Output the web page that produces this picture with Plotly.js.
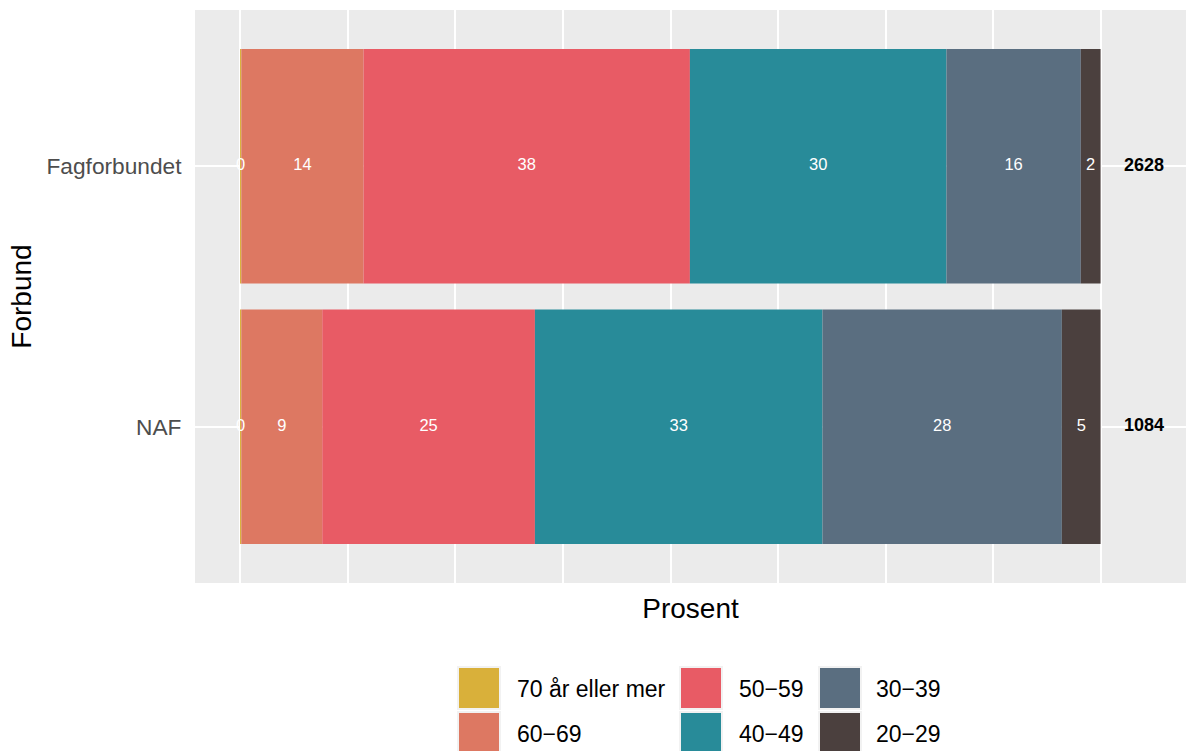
<!DOCTYPE html>
<html><head><meta charset="utf-8">
<script src="https://cdn.plot.ly/plotly-3.0.1.min.js"></script>
<style>html,body{margin:0;padding:0;background:#fff}#chart{width:1186px;height:751px}</style>
</head><body><div id="chart"></div>
<script>
// ---- data ----
const forbund = ['NAF', 'Fagforbundet'];
const totals = [1084, 2628];
const ageGroups = ['70 år eller mer', '60−69', '50−59', '40−49', '30−39', '20−29'];
const colors = ['#D9B03A', '#DD7862', '#E85B65', '#288B99', '#5A6E80', '#4B403E'];
const pct70 = [0.15, 0.15];
const pct60 = [9.4, 14.2];
const pct50 = [24.7, 37.9];
const pct40 = [33.4, 29.8];
const pct30 = [27.8, 15.6];
const pct20 = [4.5, 2.3];
const series = [pct70, pct60, pct50, pct40, pct30, pct20];

// ---- traces ----
const traces = [];
const cum = forbund.map(() => 0);
series.forEach((vals, i) => {
  traces.push({
    type: 'bar', orientation: 'h', y: forbund, x: vals, base: cum.slice(),
    width: 0.9, marker: {color: colors[i], line: {width: 0}},
    name: ageGroups[i], showlegend: false, hoverinfo: 'skip'
  });
  const mids = vals.map((v, j) => cum[j] + v / 2);
  traces.push({
    type: 'scatter', mode: 'text', y: forbund, x: mids,
    text: vals.map(v => String(Math.round(v))),
    textfont: {family: 'Liberation Sans, Arial, sans-serif', size: 16.5, color: '#FFFFFF'},
    textposition: 'middle center', showlegend: false, hoverinfo: 'skip', cliponaxis: false
  });
  vals.forEach((v, j) => cum[j] += v);
});
traces.push({
  type: 'scatter', mode: 'text', y: forbund, x: forbund.map(() => 105),
  text: totals.map(t => '<b>' + t + '</b>'),
  textfont: {family: 'Liberation Sans, Arial, sans-serif', size: 18, color: '#000000'},
  textposition: 'middle center', showlegend: false, hoverinfo: 'skip', cliponaxis: false
});

// ---- manual legend (ggplot-style, column-major 3x2) ----
const W = 1186, H = 751, mL = 195, mR = 0, mT = 10, mB = 168;
const pw = W - mL - mR, ph = H - mT - mB;
const px2x = p => (p - mL) / pw;
const py2y = p => (H - mB - p) / ph;
const keyCols = [457, 679, 818];
const textCols = [515, 737, 874];
const keyRows = [666, 711];
const keySize = 44;
const shapes = [], annotations = [];
ageGroups.forEach((g, i) => {
  const c = Math.floor(i / 2), r = i % 2;
  const x0 = keyCols[c], y0 = keyRows[r];
  shapes.push({type: 'rect', xref: 'paper', yref: 'paper',
    x0: px2x(x0), x1: px2x(x0 + keySize), y0: py2y(y0), y1: py2y(y0 + keySize),
    fillcolor: '#F2F2F2', line: {width: 0}, layer: 'above'});
  shapes.push({type: 'rect', xref: 'paper', yref: 'paper',
    x0: px2x(x0 + 2), x1: px2x(x0 + keySize - 2), y0: py2y(y0 + 2), y1: py2y(y0 + keySize - 2),
    fillcolor: colors[i], line: {width: 0}, layer: 'above'});
  annotations.push({xref: 'paper', yref: 'paper', x: px2x(textCols[c]), y: py2y(y0 + keySize / 2 + 1),
    xanchor: 'left', yanchor: 'middle', showarrow: false, text: g,
    font: {family: 'Liberation Sans, Arial, sans-serif', size: 23, color: '#000000'}});
});

const layout = {
  width: W, height: H,
  margin: {l: mL, r: mR, t: mT, b: mB, pad: 0},
  paper_bgcolor: '#FFFFFF', plot_bgcolor: '#EBEBEB',
  barmode: 'overlay', showlegend: false,
  font: {family: 'Liberation Sans, Arial, sans-serif'},
  xaxis: {
    range: [-5.23, 109.87], tick0: 0, dtick: 12.5, showticklabels: false,
    showgrid: true, gridcolor: '#FFFFFF', gridwidth: 2, zeroline: false, ticks: '',
    showline: false, fixedrange: true,
    title: {text: 'Prosent', font: {size: 28, color: '#000000'}, standoff: 15}
  },
  yaxis: {
    type: 'category', categoryorder: 'array', categoryarray: forbund,
    range: [-0.6, 1.6], showgrid: true, gridcolor: '#FFFFFF', gridwidth: 2,
    zeroline: false, showline: false, ticks: 'outside', ticklen: 8, tickcolor: 'rgba(0,0,0,0)',
    tickfont: {size: 22.7, color: '#4D4D4D'}, fixedrange: true,
    title: {text: 'Forbund', font: {size: 28, color: '#000000'}, standoff: 6}
  },
  shapes: shapes, annotations: annotations
};
Plotly.newPlot('chart', traces, layout, {displayModeBar: false, staticPlot: true});
</script>
</body></html>
